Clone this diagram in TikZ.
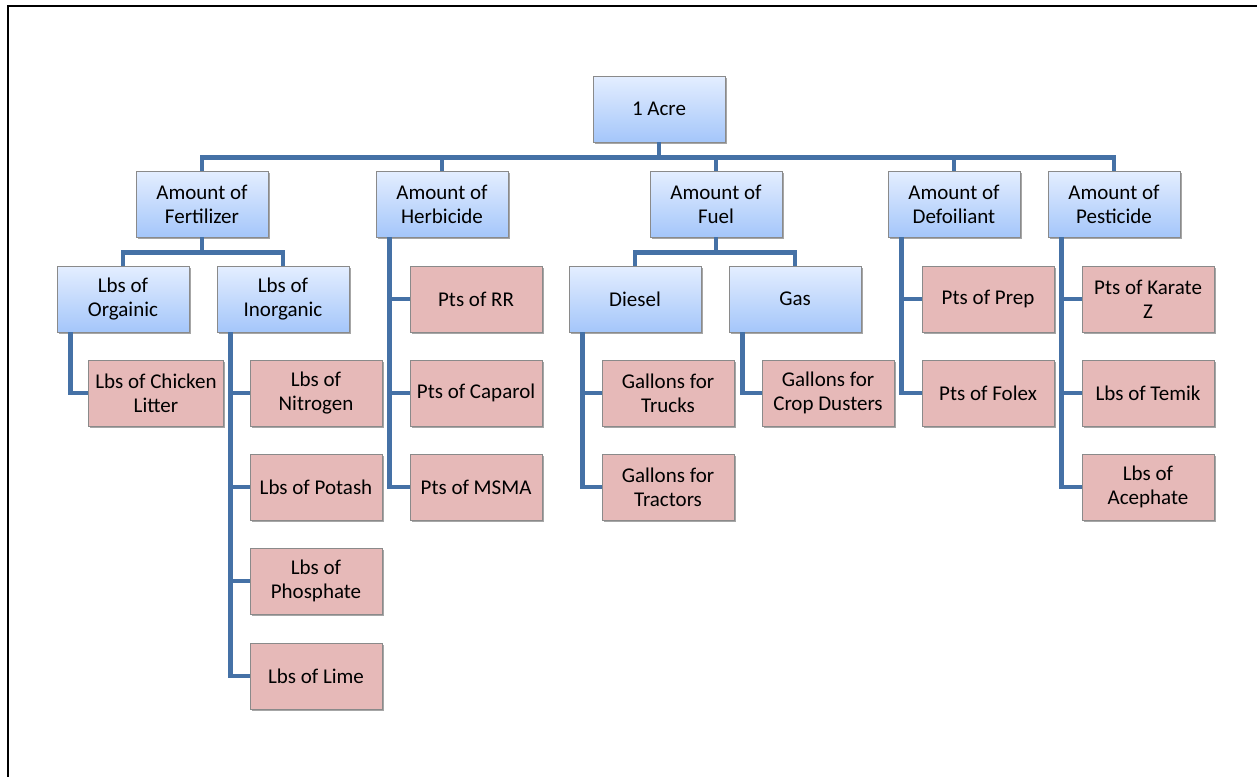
\documentclass[tikz,border=0pt]{standalone}
\usepackage{fontspec}
\setmainfont{Carlito}
\usetikzlibrary{shadows}
\definecolor{boxblueT}{RGB}{228,238,255}
\definecolor{boxblueB}{RGB}{164,198,250}
\definecolor{boxpink}{RGB}{230,185,184}
\definecolor{boxedge}{RGB}{138,138,138}
\definecolor{linkblue}{RGB}{69,113,166}

\begin{document}
\begin{tikzpicture}[x=0.5pt,y=-0.5pt]
\clip (0,0) rectangle (1257,776);
\draw[line width=1.3pt] (8,800) |- (1280,6);

\tikzset{box/.style={rectangle,draw=boxedge,minimum width=66pt,minimum height=33pt,
    align=center,font=\fontsize{10.5}{12}\selectfont,
    drop shadow={shadow xshift=0.8pt,shadow yshift=-1.2pt,opacity=0.35,fill=black}}}

\begin{scope}[every node/.style={box,top color=boxblueT,bottom color=boxblueB}]
    \node (acre) at (659,109) {1 Acre};
    \node (fert) at (202,204) {Amount of\\Fertilizer};
    \node (herb) at (442,204) {Amount of\\Herbicide};
    \node (fuel) at (716,204) {Amount of\\Fuel};
    \node (defol) at (954,204) {Amount of\\Defoiliant};
    \node (pest) at (1114,204) {Amount of\\Pesticide};
    \node (orgn) at (123,299) {Lbs of\\Orgainic};
    \node (inorg) at (283,299) {Lbs of\\Inorganic};
    \node (diesel) at (635,299) {Diesel};
    \node (gas) at (795,299) {Gas};
\end{scope}

\begin{scope}[every node/.style={box,fill=boxpink}]
    \node (litter) at (156,393) {Lbs of Chicken\\Litter};
    \node (nitro) at (316,393) {Lbs of\\Nitrogen};
    \node (potash) at (316,487) {Lbs of Potash};
    \node (phosph) at (316,581) {Lbs of\\Phosphate};
    \node (lime) at (316,676) {Lbs of Lime};
    \node (rr) at (476,299) {Pts of RR};
    \node (caparol) at (476,393) {Pts of Caparol};
    \node (msma) at (476,487) {Pts of MSMA};
    \node (trucks) at (668,393) {Gallons for\\Trucks};
    \node (tractors) at (668,487) {Gallons for\\Tractors};
    \node (dusters) at (828,393) {Gallons for\\Crop Dusters};
    \node (prep) at (988,299) {Pts of Prep};
    \node (folex) at (988,393) {Pts of Folex};
    \node (karate) at (1148,299) {Pts of Karate\\Z};
    \node (temik) at (1148,393) {Lbs of Temik};
    \node (aceph) at (1148,487) {Lbs of\\Acephate};
\end{scope}

\begin{scope}[every edge/.style={draw=linkblue,line width=2.2pt},
              bus/.style={to path={-- ++(0,-7.5pt) -| (\tikztotarget)}},
              side/.style={to path={|- (\tikztotarget)}}]
    \path [bus] (acre.south) edge (fert.north);
    \path [bus] (acre.south) edge (herb.north);
    \path [bus] (acre.south) edge (fuel.north);
    \path [bus] (acre.south) edge (defol.north);
    \path [bus] (acre.south) edge (pest.north);
    \path [bus] (fert.south) edge (orgn.north);
    \path [bus] (fert.south) edge (inorg.north);
    \path [bus] (fuel.south) edge (diesel.north);
    \path [bus] (fuel.south) edge (gas.north);
    \path [side] ([xshift=7pt]orgn.south west) edge (litter.west);
    \path [side] ([xshift=7pt]inorg.south west) edge (nitro.west);
    \path [side] ([xshift=7pt]inorg.south west) edge (potash.west);
    \path [side] ([xshift=7pt]inorg.south west) edge (phosph.west);
    \path [side] ([xshift=7pt]inorg.south west) edge (lime.west);
    \path [side] ([xshift=7pt]herb.south west) edge (rr.west);
    \path [side] ([xshift=7pt]herb.south west) edge (caparol.west);
    \path [side] ([xshift=7pt]herb.south west) edge (msma.west);
    \path [side] ([xshift=7pt]diesel.south west) edge (trucks.west);
    \path [side] ([xshift=7pt]diesel.south west) edge (tractors.west);
    \path [side] ([xshift=7pt]gas.south west) edge (dusters.west);
    \path [side] ([xshift=7pt]defol.south west) edge (prep.west);
    \path [side] ([xshift=7pt]defol.south west) edge (folex.west);
    \path [side] ([xshift=7pt]pest.south west) edge (karate.west);
    \path [side] ([xshift=7pt]pest.south west) edge (temik.west);
    \path [side] ([xshift=7pt]pest.south west) edge (aceph.west);
\end{scope}
\end{tikzpicture}
\end{document}
